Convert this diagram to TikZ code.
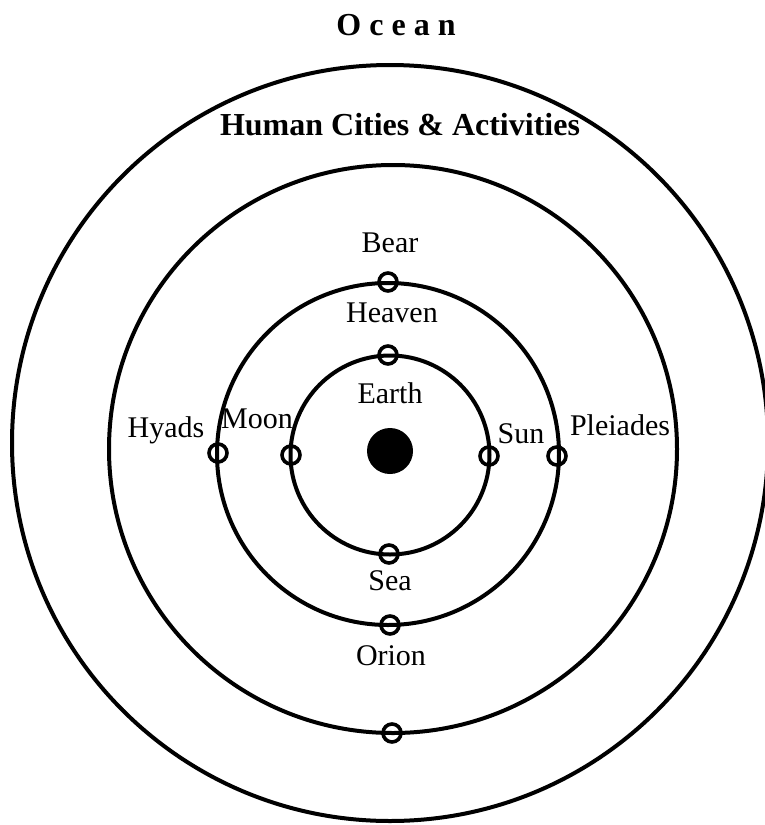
\documentclass[tikz,border=0pt]{standalone}
\usepackage{fontspec}
\setmainfont{Liberation Serif}
\newfontfamily\spacedfont[LetterSpace=25]{Liberation Serif}

\begin{document}
\begin{tikzpicture}[
    x=0.5pt,
    y=-0.5pt,
    orbit/.style={
        draw=black,
        line width=2pt
    },
    marker/.style={
        circle,
        draw=black,
        line width=1.8pt,
        minimum size=9pt,
        inner sep=0pt
    },
    earthdot/.style={
        circle,
        fill=black,
        minimum size=23pt,
        inner sep=0pt
    },
    lbl/.style={
        anchor=base,
        inner sep=0pt,
        font=\fontsize{15}{18}\selectfont
    },
    heading/.style={
        anchor=base,
        inner sep=0pt,
        font=\fontsize{16}{19}\selectfont\bfseries
    }
]
    \useasboundingbox (0,0) rectangle (765,825);

    % ==========================================
    % RINGS
    % ==========================================

    \draw[orbit] (390,443) circle[radius=378];
    \draw[orbit] (393,449) circle[radius=284];
    \draw[orbit] (388,454) circle[radius=171];
    \draw[orbit] (390,455) circle[radius=99.5];

    % Earth (Center)
    \node[earthdot] (EarthDot) at (390,451) {};

    % ==========================================
    % MARKERS
    % ==========================================

    \node[marker] (BearMk) at (388,282) {};
    \node[marker] (HeavenMk) at (388,355) {};
    \node[marker] (HyadsMk) at (218,453) {};
    \node[marker] (MoonMk) at (291,455) {};
    \node[marker] (SunMk) at (489,456) {};
    \node[marker] (PleiadesMk) at (557,456) {};
    \node[marker] (SeaMk) at (389,554) {};
    \node[marker] (OrionMk) at (390,625) {};
    \node[marker] (BottomMk) at (392,733) {};

    % ==========================================
    % LABELS
    % ==========================================

    \node[heading, font=\fontsize{16}{19}\selectfont\bfseries\spacedfont] (Ocean) at (396,35) {Ocean};
    \node[heading] (Cities) at (400,135) {Human Cities \& Activities};

    \node[lbl] (Bear) at (390,252) {Bear};
    \node[lbl] (Heaven) at (392,322) {Heaven};
    \node[lbl] (Earth) at (390,403) {Earth};
    \node[lbl] (Hyads) at (166,437) {Hyads};
    \node[lbl] (Moon) at (257,428) {Moon};
    \node[lbl] (Sun) at (521,443) {Sun};
    \node[lbl] (Pleiades) at (620,435) {Pleiades};
    \node[lbl] (Sea) at (390,590) {Sea};
    \node[lbl] (Orion) at (391,665) {Orion};

\end{tikzpicture}
\end{document}
